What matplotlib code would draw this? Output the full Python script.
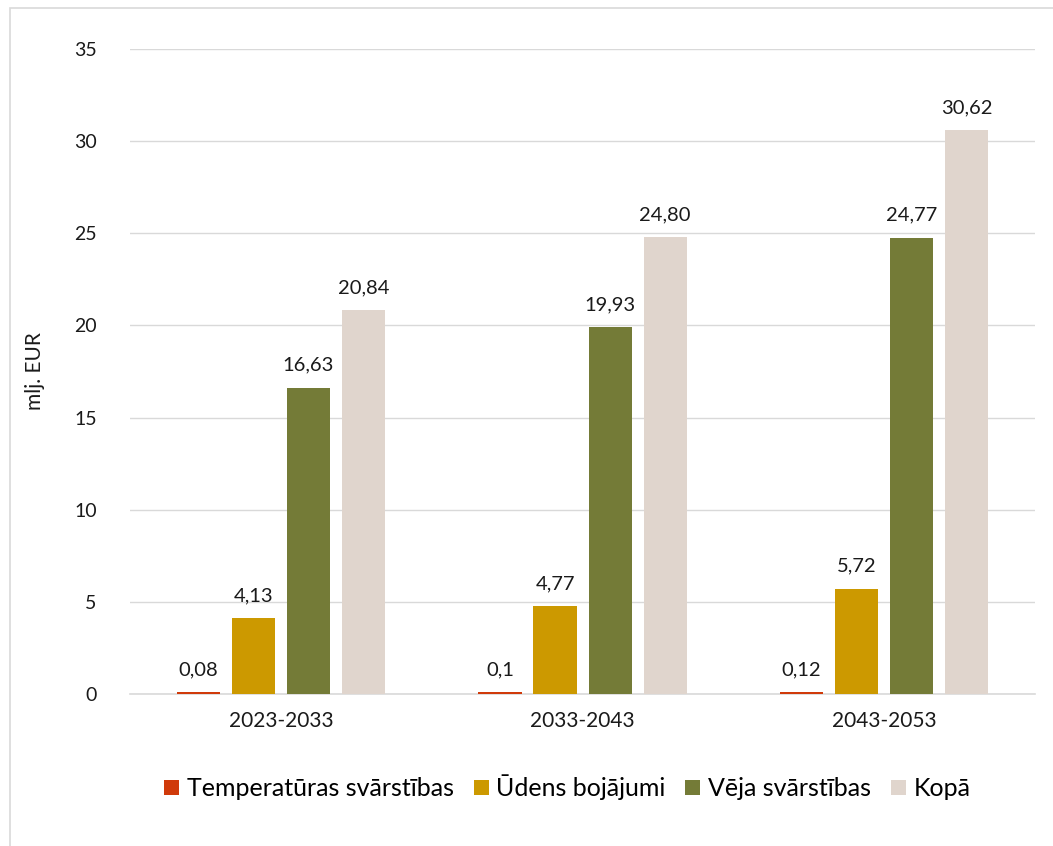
import numpy as np
import matplotlib.pyplot as plt
from matplotlib.patches import Rectangle

# Values in millions EUR per period
periods = ["2023-2033", "2033-2043", "2043-2053"]
series_names = ["Temperatūras svārstības", "Ūdens bojājumi", "Vēja svārstības", "Kopā"]
temperatura = [0.08, 0.10, 0.12]
udens = [4.13, 4.77, 5.72]
veja = [16.63, 19.93, 24.77]
kopa = [20.84, 24.80, 30.62]

colors = ["#D03A0A", "#CC9900", "#747B37", "#E0D5CD"]
# temperature labels are shown in short form, the rest with two decimals
formats = ["{:g}", "{:.2f}", "{:.2f}", "{:.2f}"]

plt.rcParams["font.family"] = ["Lato", "DejaVu Sans"]

fig = plt.figure(figsize=(10.53, 8.46), dpi=100)
ax = fig.add_axes([0.1235, 0.1797, 0.8595, 0.7624])

# thin frame around the whole chart
fig.patches.append(Rectangle((10 / 1053, -0.05), 1.2, 1 - 8 / 846 + 0.05,
                             transform=fig.transFigure, fill=False,
                             edgecolor="#D9D9D9", linewidth=1.2, zorder=0))

x = np.arange(len(periods))
width = 0.143
step = 0.1825
data = [temperatura, udens, veja, kopa]
for i, (vals, name) in enumerate(zip(data, series_names)):
    pos = x + (i - 1.5) * step
    ax.bar(pos, vals, width, color=colors[i], label=name, zorder=3)
    for px, v in zip(pos, vals):
        ax.text(px, v + 0.75, formats[i].format(v).replace(".", ","),
                ha="center", va="bottom", fontsize=14.5, color="#1a1a1a")

ax.set_xlim(-0.5, 2.5)
ax.set_ylim(0, 35)
ax.set_yticks(range(0, 36, 5))
ax.set_xticks(x)
ax.set_xticklabels(periods)
ax.tick_params(axis="both", length=0, colors="#1a1a1a")
ax.tick_params(axis="y", pad=24, labelsize=14)
ax.tick_params(axis="x", pad=12, labelsize=15)
ax.grid(axis="y", color="#D9D9D9", linewidth=1, zorder=0)
for s in ["top", "right", "left"]:
    ax.spines[s].set_visible(False)
ax.spines["bottom"].set_color("#D9D9D9")
ax.spines["bottom"].set_linewidth(1.2)

ax.set_ylabel("mlj. EUR", fontsize=15, labelpad=28, color="#1a1a1a")
ax.yaxis.set_label_coords(-0.094, 0.5)

ax.legend(loc="center", bbox_to_anchor=(0.483, -0.145), ncol=4, frameon=False,
          fontsize=18, handlelength=0.6, handleheight=0.6, handletextpad=0.3,
          columnspacing=0.8)

fig.savefig("out.png", dpi=100)
